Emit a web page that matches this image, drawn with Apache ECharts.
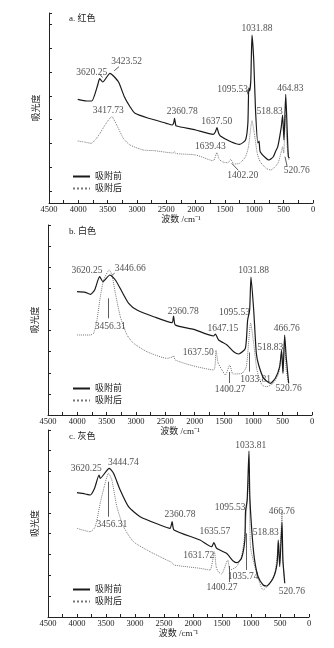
<!DOCTYPE html>
<html>
<head>
<meta charset="utf-8">
<script src="https://cdn.jsdelivr.net/npm/echarts@6/dist/echarts.min.js"></script>
<style>
html, body { margin: 0; padding: 0; background: #fff; }
#main { width: 334px; height: 648px; }
</style>
</head>
<body>
<div id="main"></div>
<script>
// 系列名称 / 面板标题
var seriesNames = ['吸附前', '吸附后'];
var panelNames = ['a. 红色', 'b. 白色', 'c. 灰色'];

// 光谱数据 [波数, 吸光度(相对)]
var redBefore = [[4010,103.7],[3857,102],[3772,102],[3670,118],[3636,124.3],[3585,121],[3460,129.7],[3400,127],[3312,120.7],[3216,106.3],[3119,96.3],[3034,89.7],[2800,84.7],[2500,79.7],[2400,78],[2375,80],[2360,84.7],[2340,78],[2330,77],[2000,73],[1700,68.7],[1665,71],[1637,75.3],[1610,70],[1580,67],[1400,61.3],[1250,58.7],[1150,63],[1110,80],[1095,115],[1080,112],[1060,123],[1040,168],[1010,143],[980,93],[940,60],[920,62],[900,51.3],[800,44.7],[750,43],[680,46],[640,51.3],[600,56.3],[540,76.3],[518,88],[495,63],[465,108.7],[440,73],[420,46.3],[400,45]];
var redAfter = [[4010,62],[3900,61],[3780,59.7],[3700,64],[3630,69.7],[3545,78],[3431,86.3],[3346,78],[3233,64.7],[3119,58],[2893,53],[2700,52.3],[2380,50],[2360,51.5],[2340,49.5],[2000,48],[1700,42.3],[1639,50.3],[1600,44],[1550,41.3],[1450,40.3],[1402,43.7],[1350,39],[1250,39.7],[1150,46.3],[1100,56.3],[1040,82.3],[1000,69.7],[950,49.7],[900,41.3],[800,34.7],[720,33],[600,39.7],[540,51.3],[520,56.3],[500,50],[470,88],[440,56],[410,43]];
var whiteBefore = [[4006,123.3],[3864,122.7],[3779,120.7],[3705,125],[3620,138.3],[3563,133.3],[3446,140],[3352,135],[3239,123.3],[3125,111.7],[2983,105],[2699,98.3],[2386,92.3],[2360,99],[2330,90],[2017,85.7],[1676,79],[1647,81],[1591,75],[1449,70],[1335,63.3],[1250,61],[1136,66.7],[1097,95],[1063,105],[1040,138],[994,105],[949,61.7],[909,50],[824,36.7],[710,31.7],[625,36.7],[551,48.3],[518,65],[495,41.7],[466,80],[440,58.3],[398,31.7]];
var whiteAfter = [[4006,80],[3779,80],[3722,81.7],[3665,95],[3608,118.3],[3551,135],[3456,145],[3409,140],[3352,121.7],[3267,98.3],[3153,80],[3040,71.7],[2813,63.3],[2472,56.7],[2380,58],[2360,59.3],[2330,55],[2017,49],[1676,45],[1637,65],[1600,52],[1534,45],[1477,40],[1400,50],[1347,41],[1193,41.7],[1119,48.3],[1045,92],[994,71.7],[938,45],[852,30],[767,28.3],[653,32.3],[568,41.7],[520,61.7],[495,43.3],[466,75],[440,45],[398,31.7]];
var grayBefore = [[4001,124.3],[3858,123],[3772,122],[3697,128.7],[3620,142],[3600,138.7],[3444,148.7],[3370,143.7],[3256,127],[3112,110.3],[2912,100.3],[2568,92],[2396,88.7],[2360,95.3],[2327,87],[1880,77],[1679,70.3],[1640,74.5],[1593,68.7],[1422,63.7],[1307,56],[1238,54.3],[1164,58.7],[1106,77],[1095,105.3],[1066,117],[1035,166],[1020,120.3],[974,77],[934,55.3],[877,40.3],[791,32],[733,31],[619,38.7],[550,53.7],[530,77],[505,50.3],[466,94.5],[450,57],[418,33.7]];
var grayAfter = [[4001,88.7],[3772,85.3],[3686,90.3],[3600,113.7],[3531,130.3],[3456,143.7],[3399,137],[3313,110.3],[3198,90.3],[3027,75.3],[2740,65.3],[2453,57],[2380,55],[2360,54.3],[2330,52],[1880,48.7],[1708,47],[1631,65.3],[1600,50],[1565,45.3],[1508,43],[1400,57],[1364,47],[1250,50.3],[1164,60.3],[1106,83.7],[1035,138],[1009,70.3],[934,50.3],[848,33.7],[791,27],[676,33.7],[590,43.7],[520,73.7],[505,53.7],[466,105.3],[450,57],[418,37]];

// 峰位标注 [文字, 波数, 吸光度]
var redPeaks = [['3620.25',3772,130.3],['3423.52',3176,141.3],['3417.73',3489,93],['2360.78',2228,92],['1637.50',1640,81.3],['1095.53',1370,114],['1031.88',955,174.7],['518.83',740,91.3],['464.83',385,115],['1639.43',1750,56.3],['1402.20',1198,27.5],['520.76',278,33]];
var whitePeaks = [['3620.25',3835,145],['3446.66',3097,146.7],['3456.31',3438,88.3],['2360.78',2195,104],['1647.15',1520,86.3],['1095.53',1320,102.8],['1031.88',996,145],['518.83',711,68],['466.76',430,86.7],['1637.50',1938,62.8],['1400.27',1395,25.3],['1033.81',960,35.8],['520.76',399,26.3]];
var grayPeaks = [['3620.25',3841,148.7],['3444.74',3200,154.3],['3456.31',3399,93],['2360.78',2224,102.7],['1635.57',1622,85.3],['1095.53',1360,110],['1033.81',1005,172],['518.83',745,85],['466.76',470,105.3],['1631.72',1900,61.6],['1035.74',1136,40.3],['1400.27',1500,29.5],['520.76',295,26]];

// 引线
var redLeaders = [[[3631,128.5],[3588,125.5]],[[3387,132.3],[3307,136.3]],[[1130,113],[1103,108]],[[1386,39.7],[1273,32.7]],[[477,46.3],[443,37]]];
var whiteLeaders = [[[3477,116.7],[3477,96.7]],[[3365,141.7],[3426,139]],[[1408,43],[1408,32]],[[1064,62.5],[1064,43.3]]];
var grayLeaders = [[[3468,135.3],[3468,100.3]],[[1077,83.7],[1077,47]],[[1376,51],[1376,35]]];

// y轴刻度
var yTicksA = [12, 36, 60, 84, 107, 131, 155, 179, 190];
var yTicksB = [0, 21.1, 42.2, 63.3, 84.4, 105.6, 126.7, 147.8, 168.9, 190];
var yTicksC = [0, 20.8, 41.6, 62.5, 83.3, 104.1, 125, 145.8, 166.6, 187];

(function () {
    var serif = "'Liberation Serif', 'Noto Sans CJK SC', serif";
    var ink = '#222';

    var grids = [
        {left: 49, top: 13, width: 264, height: 190},
        {left: 48, top: 225, width: 264, height: 190},
        {left: 48, top: 430, width: 261, height: 187}
    ];
    var yMax = [190, 190, 187];
    var yTicks = [yTicksA, yTicksB, yTicksC];
    var before = [redBefore, whiteBefore, grayBefore];
    var after = [redAfter, whiteAfter, grayAfter];
    var peaks = [redPeaks, whitePeaks, grayPeaks];
    var leaders = [redLeaders, whiteLeaders, grayLeaders];
    var legendTop = [167, 379, 580];
    var titleTop = [9, 222, 427];

    var xAxis = [], yAxis = [], series = [], titles = [], legends = [];

    grids.forEach(function (g, i) {
        xAxis.push({
            gridIndex: i,
            type: 'value',
            inverse: true,
            min: 0,
            max: 4500,
            interval: 500,
            name: '波数 /cm⁻¹',
            nameLocation: 'middle',
            nameGap: 12,
            nameTextStyle: {fontFamily: serif, fontSize: 9, color: ink},
            axisLine: {onZero: false, lineStyle: {color: ink, width: 1}},
            axisTick: {inside: true, length: 3, lineStyle: {color: ink}},
            minorTick: {show: true, splitNumber: 2, length: 3, lineStyle: {color: ink}},
            axisLabel: {
                fontFamily: serif, fontSize: 8.5, color: ink, margin: 3,
                formatter: function (v) { return String(v); }
            },
            splitLine: {show: false}
        });
        yAxis.push({
            gridIndex: i,
            type: 'value',
            min: 0,
            max: yMax[i],
            name: '吸光度',
            nameLocation: 'middle',
            nameGap: 8,
            nameTextStyle: {fontFamily: serif, fontSize: 9, color: ink},
            axisLine: {show: true, onZero: false, lineStyle: {color: ink, width: 1}},
            axisTick: {show: true, inside: true, length: 3, customValues: yTicks[i], lineStyle: {color: ink}},
            axisLabel: {show: false},
            splitLine: {show: false}
        });
        // 吸附前 实线
        series.push({
            name: seriesNames[0],
            type: 'line',
            xAxisIndex: i,
            yAxisIndex: i,
            data: before[i],
            symbol: 'none',
            smooth: 0.2,
            lineStyle: {color: '#1a1a1a', width: 1.2},
            itemStyle: {color: '#1a1a1a'},
            z: 3
        });
        // 吸附后 点线
        series.push({
            name: seriesNames[1],
            type: 'line',
            xAxisIndex: i,
            yAxisIndex: i,
            data: after[i],
            symbol: 'none',
            smooth: 0.2,
            lineStyle: {color: '#777', width: 1, type: 'dotted'},
            itemStyle: {color: '#777'},
            z: 2
        });
        // 峰位文字 + 引线
        series.push({
            type: 'scatter',
            xAxisIndex: i,
            yAxisIndex: i,
            symbolSize: 1,
            itemStyle: {color: 'rgba(0,0,0,0)'},
            silent: true,
            data: peaks[i].map(function (p) {
                return {name: p[0], value: [p[1], p[2]]};
            }),
            label: {
                show: true,
                position: 'inside',
                formatter: '{b}',
                fontFamily: serif,
                fontSize: 9.5,
                color: ink
            },
            markLine: {
                silent: true,
                symbol: 'none',
                label: {show: false},
                lineStyle: {color: '#333', width: 0.8, type: 'solid'},
                data: leaders[i].map(function (l) {
                    return [{coord: l[0]}, {coord: l[1]}];
                })
            },
            z: 4
        });
        titles.push({
            text: panelNames[i],
            left: 64,
            top: titleTop[i],
            textStyle: {fontFamily: serif, fontSize: 9, fontWeight: 'normal', color: ink}
        });
        legends.push({
            left: 67,
            top: legendTop[i],
            orient: 'vertical',
            itemWidth: 17,
            itemHeight: 8,
            itemGap: 3,
            data: seriesNames,
            itemStyle: {opacity: 0},
            textStyle: {fontFamily: serif, fontSize: 9, color: ink}
        });
    });

    var myechart = echarts.init(document.getElementById('main'));
    myechart.setOption({
        animation: false,
        title: titles,
        legend: legends,
        grid: grids,
        xAxis: xAxis,
        yAxis: yAxis,
        series: series
    });
})();
</script>
</body>
</html>
